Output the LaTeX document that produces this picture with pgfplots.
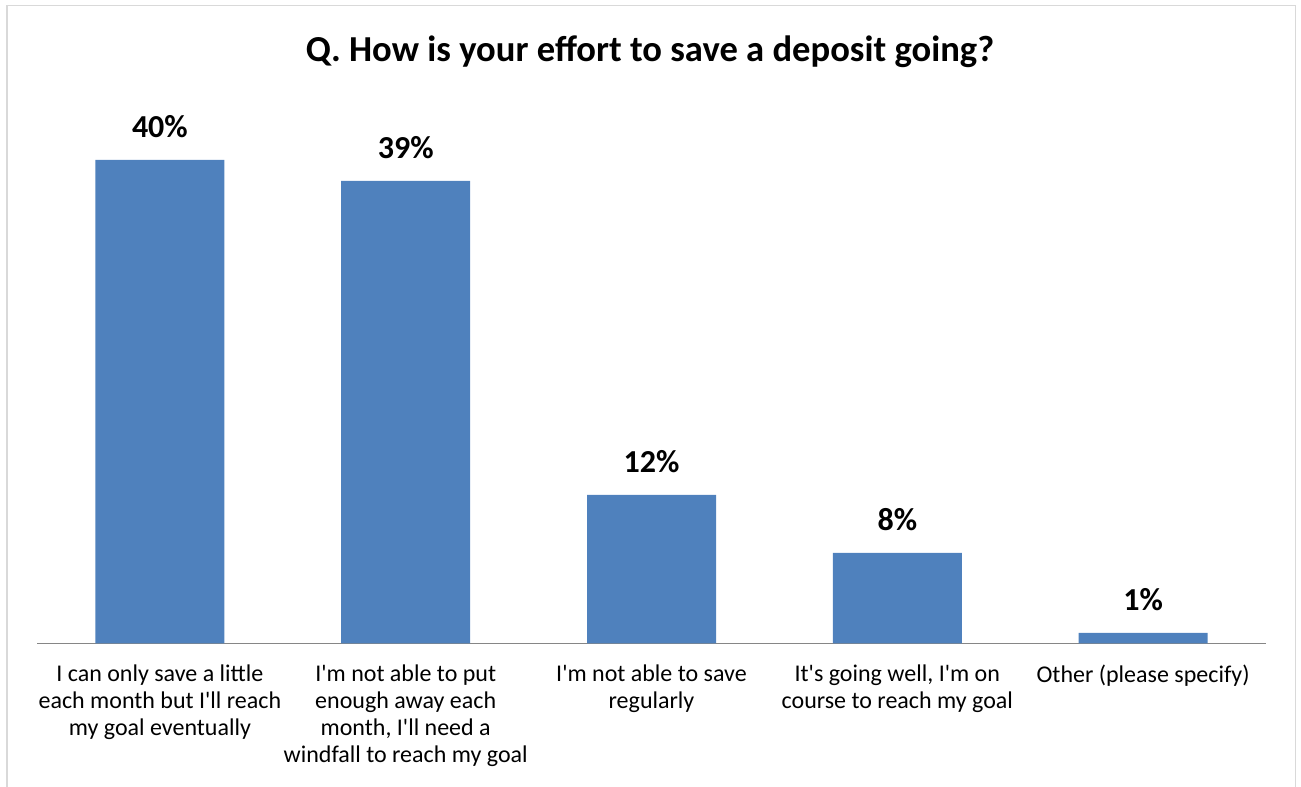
\documentclass[border=0pt]{standalone}
\usepackage{pgfplots}
\pgfplotsset{compat=1.18}
\usepackage{fontspec}
\setmainfont{Carlito}[Ligatures=TeXReset]
\definecolor{barblue}{HTML}{4F81BD}
\definecolor{baseg}{HTML}{868686}
\definecolor{frameg}{HTML}{D9D9D9}
\begin{document}
\begin{tikzpicture}
\useasboundingbox (0,0) rectangle (650.5pt,393.5pt);
\draw[frameg, line width=0.8pt] (3.4pt,-2pt) -- (3.4pt,390.8pt) -- (647.8pt,390.8pt) -- (647.8pt,-2pt);
\node[font=\fontsize{18.3}{21}\selectfont\bfseries, anchor=base] at (325pt,362.6pt) {Q. How is your effort to save a deposit going?};
\begin{axis}[
  at={(18.5pt,71.85pt)}, anchor=south west,
  scale only axis,
  width=614.5pt, height=269.2pt,
  xmin=-0.5, xmax=4.5, ymin=0, ymax=45,
  axis x line*=bottom, axis y line=none,
  x axis line style={baseg, line width=0.75pt},
  ybar, bar width=64.5pt,
  xtick=data,
  major tick length=0pt,
  xticklabels={{I can only save a little\\each month but I'll reach\\my goal eventually},
               {I'm not able to put\\enough away each\\month, I'll need a\\windfall to reach my goal},
               {I'm not able to save\\regularly},
               {It's going well, I'm on\\course to reach my goal},
               {Other (please specify)}},
  xticklabel style={align=center, inner sep=0pt, anchor=north, yshift=-10.5pt,
    font=\fontsize{12}{13.5}\selectfont},
  point meta=explicit symbolic,
  nodes near coords,
  nodes near coords style={anchor=base, yshift=11pt, inner sep=0pt,
    font=\fontsize{16}{18}\selectfont\bfseries, text=black},
]
\addplot[fill=barblue, draw=none] coordinates {
  (0,40.4) [40\%]
  (1,38.65) [39\%]
  (2,12.4) [12\%]
  (3,7.55) [8\%]
  (4,0.88) [1\%]
};
\end{axis}
\end{tikzpicture}
\end{document}
